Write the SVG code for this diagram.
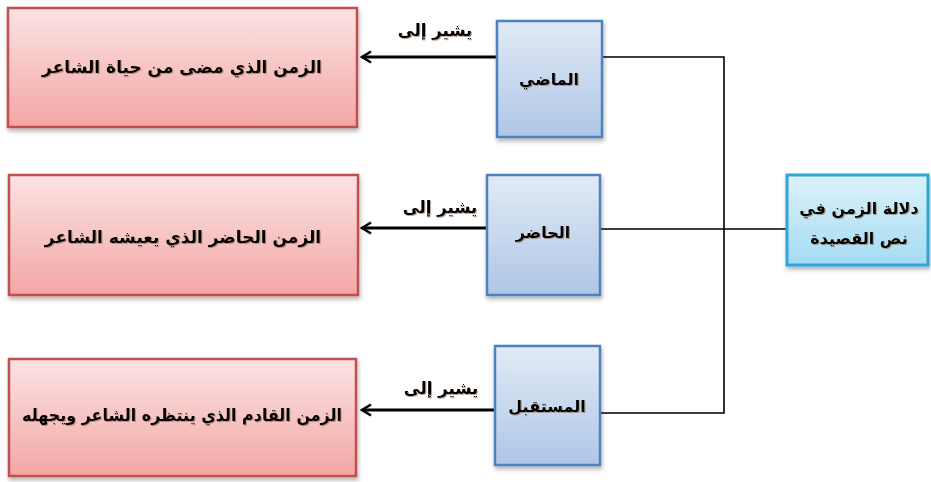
<svg xmlns="http://www.w3.org/2000/svg" width="931" height="482" viewBox="0 0 931 482">
<defs>
<linearGradient id="gRed" x1="0" y1="0" x2="0" y2="1"><stop offset="0" stop-color="#fbe3e3"/><stop offset="1" stop-color="#f3a6a5"/></linearGradient>
<linearGradient id="gBlue" x1="0" y1="0" x2="0" y2="1"><stop offset="0" stop-color="#e2eaf6"/><stop offset="1" stop-color="#aec6e6"/></linearGradient>
<linearGradient id="gCyan" x1="0" y1="0" x2="0" y2="1"><stop offset="0" stop-color="#dcf2fb"/><stop offset="1" stop-color="#a4dbf3"/></linearGradient>
<filter id="sh" x="-10%" y="-10%" width="130%" height="130%"><feDropShadow dx="1" dy="3" stdDeviation="2" flood-color="#000" flood-opacity="0.3"/></filter>
<filter id="tsh" x="-5%" y="-20%" width="110%" height="150%"><feDropShadow dx="1" dy="1" stdDeviation="0.6" flood-color="#8a6a50" flood-opacity="0.6"/></filter>
<marker id="arr" viewBox="0 0 14 14" refX="12" refY="7" markerWidth="14" markerHeight="14" markerUnits="userSpaceOnUse" orient="auto"><path d="M3,1.5 L12,7 L3,12.5" fill="none" stroke="#000" stroke-width="2.6" stroke-linejoin="miter"/></marker>
</defs>
<style>
.red{fill:url(#gRed);stroke:#c0504d;stroke-width:2.5;filter:url(#sh)}
.blue{fill:url(#gBlue);stroke:#4f81bd;stroke-width:2.5;filter:url(#sh)}
.cyan{fill:url(#gCyan);stroke:#2ea6dc;stroke-width:3;filter:url(#sh)}
text{font-family:"DejaVu Sans","Noto Sans",sans-serif;font-weight:bold;fill:#000;text-anchor:middle;filter:url(#tsh)}
.big{font-size:17px}
.mid{font-size:16px}
.lbl{font-size:16.5px}
.ln{fill:none;stroke:#000;stroke-width:1.6}
.ar{fill:none;stroke:#000;stroke-width:3}
</style>
<g id="connectors">
<path class="ln" d="M602,57 H724 V413 H600"/>
<path class="ln" d="M600,229 H787"/>
<line class="ar" x1="497" y1="57" x2="362" y2="57" marker-end="url(#arr)"/>
<line class="ar" x1="495" y1="228" x2="362" y2="228" marker-end="url(#arr)"/>
<line class="ar" x1="497" y1="410" x2="362" y2="410" marker-end="url(#arr)"/>
<text class="lbl" x="435" y="36">يشير إلى</text>
<text class="lbl" x="440" y="213">يشير إلى</text>
<text class="lbl" x="441" y="394">يشير إلى</text>
</g>
<g id="n-past-meaning"><rect class="red" x="8" y="8" width="349" height="119"/><text class="big" x="182" y="73">الزمن الذي مضى من حياة الشاعر</text></g>
<g id="n-present-meaning"><rect class="red" x="9" y="175" width="349" height="120"/><text class="big" x="183" y="243">الزمن الحاضر الذي يعيشه الشاعر</text></g>
<g id="n-future-meaning"><rect class="red" x="9" y="359" width="347" height="117"/><text class="big" x="182" y="421" textLength="320" lengthAdjust="spacingAndGlyphs">الزمن القادم الذي ينتظره الشاعر ويجهله</text></g>
<g id="n-past"><rect class="blue" x="497" y="21" width="105" height="116"/><text class="mid" x="549" y="85">الماضي</text></g>
<g id="n-present"><rect class="blue" x="487" y="175" width="113" height="120"/><text class="mid" x="543" y="238">الحاضر</text></g>
<g id="n-future"><rect class="blue" x="495" y="346" width="105" height="119"/><text class="mid" x="547" y="412">المستقبل</text></g>
<g id="n-main"><rect class="cyan" x="787" y="175" width="141" height="90"/><text class="mid" x="859" y="214">دلالة الزمن في</text><text class="mid" x="859" y="244">نص القصيدة</text></g>
</svg>
